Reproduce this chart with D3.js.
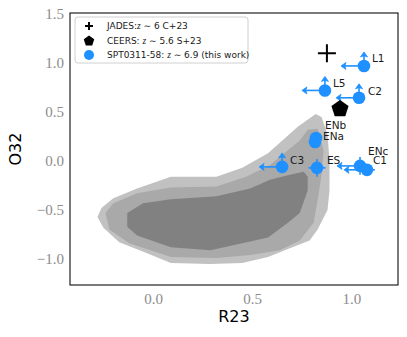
<!DOCTYPE html>
<html>
<head>
<meta charset="utf-8">
<script src="https://cdn.jsdelivr.net/npm/d3@7"></script>
<style>
  html, body { margin: 0; padding: 0; background: #fff; }
  svg { display: block; }
</style>
</head>
<body>
<svg id="chart" width="407" height="337"></svg>
<script>
// local-universe density contours (R23, O32), outer -> inner
const contourOuter = [[-0.28,-0.57],[-0.26,-0.48],[-0.20,-0.38],[-0.08,-0.28],[0.09,-0.16],[0.32,-0.16],[0.45,-0.07],[0.58,0.08],[0.73,0.35],[0.82,0.48],[0.85,0.45],[0.88,0.27],[0.89,0.01],[0.89,-0.30],[0.88,-0.50],[0.83,-0.70],[0.79,-0.81],[0.69,-0.89],[0.58,-0.98],[0.45,-1.04],[0.29,-1.05],[0.09,-1.04],[-0.03,-0.94],[-0.17,-0.83],[-0.25,-0.68]];
const contourMid = [[-0.24,-0.53],[-0.20,-0.43],[-0.08,-0.33],[0.09,-0.27],[0.32,-0.26],[0.47,-0.16],[0.59,-0.04],[0.74,0.21],[0.78,0.32],[0.83,0.33],[0.86,0.11],[0.85,-0.14],[0.83,-0.40],[0.81,-0.63],[0.74,-0.81],[0.64,-0.91],[0.49,-0.96],[0.32,-0.99],[0.09,-0.98],[-0.12,-0.84],[-0.22,-0.70]];
const contourInner = [[-0.13,-0.67],[-0.13,-0.53],[-0.05,-0.43],[0.09,-0.39],[0.32,-0.36],[0.49,-0.28],[0.59,-0.19],[0.69,-0.14],[0.76,-0.11],[0.78,-0.16],[0.78,-0.30],[0.74,-0.53],[0.68,-0.63],[0.58,-0.78],[0.45,-0.84],[0.29,-0.91],[0.09,-0.88],[-0.08,-0.76]];

// literature points
const jadesR23 = 0.877, jadesO32 = 1.10;
const ceersR23 = 0.943, ceersO32 = 0.54;

// SPT0311-58 regions
const sptNames = ["L1", "L5", "C2", "ENb", "ENa", "C3", "ES", "ENc", "C1"];
const sptR23 = [1.064, 0.867, 1.039, 0.822, 0.817, 0.651, 0.827, 1.044, 1.079];
const sptO32 = [0.97, 0.72, 0.645, 0.235, 0.194, -0.06, -0.07, -0.05, -0.09];
const sptR23Upper = [true, true, true, false, false, true, false, true, true];
const sptO32Lower = [true, true, true, false, false, true, false, false, false];
const sptR23Err = [0, 0, 0, 0, 0, 0, 0.043, 0, 0.04];
const sptO32Err = [0, 0, 0, 0, 0, 0, 0.09, 0.09, 0];

const xTicks = [0, 0.5, 1.0];
const yTicks = [-1.0, -0.5, 0.0, 0.5, 1.0, 1.5];

const legendLabels = [
  ["JADES:", "z", " \u223C 6 C+23"],
  ["CEERS: ", "z", " \u223C 5.6 S+23"],
  ["SPT0311-58: ", "z", " \u223C 6.9 (this work)"]
];

const blue = "#1e90ff";
const svg = d3.select("#chart");
const margin = { left: 70, right: 9, top: 13, bottom: 52 };
const W = 407, H = 337;

const x = d3.scaleLinear().domain([-0.4186, 1.2355]).range([margin.left, W - margin.right]);
const y = d3.scaleLinear().domain([-1.265, 1.51]).range([H - margin.bottom, margin.top]);

svg.append("defs").append("clipPath").attr("id", "clip")
  .append("rect")
  .attr("x", margin.left).attr("y", margin.top)
  .attr("width", W - margin.left - margin.right)
  .attr("height", H - margin.top - margin.bottom);

const plot = svg.append("g").attr("clip-path", "url(#clip)");

// contours
const line = d3.line().x(d => x(d[0])).y(d => y(d[1])).curve(d3.curveLinearClosed);
[[contourOuter, "#c1c1c1"], [contourMid, "#a9a9a9"], [contourInner, "#818181"]].forEach(([pts, col]) => {
  plot.append("path").attr("d", line(pts)).attr("fill", col);
});

// arrows (limits) and error bars
const arrowLeftPx = 23, arrowUpPx = 14;
function arrowHead(g, tx, ty, dir) {
  // filled caret pointing in dir
  const l = 5, w = 3.5;
  let p;
  if (dir === "left") p = `M${tx},${ty} L${tx + l},${ty - w} L${tx + l - 1.2},${ty} L${tx + l},${ty + w} Z`;
  else p = `M${tx},${ty} L${tx - w},${ty + l} L${tx},${ty + l - 1.2} L${tx + w},${ty + l} Z`;
  g.append("path").attr("d", p).attr("fill", blue).attr("stroke", blue).attr("stroke-width", 0.8);
}

const pts = plot.append("g");
sptNames.forEach((name, i) => {
  const cx = x(sptR23[i]), cy = y(sptO32[i]);
  if (sptR23Upper[i]) {
    pts.append("line").attr("x1", cx).attr("y1", cy).attr("x2", cx - arrowLeftPx + 2).attr("y2", cy)
      .attr("stroke", blue).attr("stroke-width", 1.6);
    arrowHead(pts, cx - arrowLeftPx, cy, "left");
  }
  if (sptO32Lower[i]) {
    pts.append("line").attr("x1", cx).attr("y1", cy).attr("x2", cx).attr("y2", cy - arrowUpPx + 2)
      .attr("stroke", blue).attr("stroke-width", 1.6);
    arrowHead(pts, cx, cy - arrowUpPx, "up");
  }
  if (sptR23Err[i] > 0) {
    pts.append("line")
      .attr("x1", x(sptR23[i] - sptR23Err[i])).attr("x2", x(sptR23[i] + sptR23Err[i]))
      .attr("y1", cy).attr("y2", cy).attr("stroke", blue).attr("stroke-width", 1.6);
  }
  if (sptO32Err[i] > 0) {
    pts.append("line")
      .attr("y1", y(sptO32[i] - sptO32Err[i])).attr("y2", y(sptO32[i] + sptO32Err[i]))
      .attr("x1", cx).attr("x2", cx).attr("stroke", blue).attr("stroke-width", 1.6);
  }
});
sptNames.forEach((name, i) => {
  pts.append("circle").attr("cx", x(sptR23[i])).attr("cy", y(sptO32[i])).attr("r", 6.3).attr("fill", blue);
});

// JADES plus
const jx = x(jadesR23), jy = y(jadesO32);
plot.append("path").attr("d", `M${jx - 9},${jy} H${jx + 9} M${jx},${jy - 9} V${jy + 9}`)
  .attr("stroke", "#000").attr("stroke-width", 2);

// CEERS pentagon
function pentPath(r) {
  return d3.range(5).map(k => {
    const a = -Math.PI / 2 + k * 2 * Math.PI / 5;
    return [r * Math.cos(a), r * Math.sin(a)];
  });
}
plot.append("path")
  .attr("d", "M" + pentPath(9).join("L") + "Z")
  .attr("transform", `translate(${x(ceersR23)},${y(ceersO32) + 0.8})`)
  .attr("fill", "#000");

// region labels
const labelOffset = {
  L1: [8, -8], L5: [8, -7], C2: [9, -7], ENb: [9, -13], ENa: [8, -6],
  C3: [8, -7], ES: [10, -8], ENc: [8, -15], C1: [6, -10]
};
sptNames.forEach((name, i) => {
  const o = labelOffset[name];
  svg.append("text")
    .attr("x", x(sptR23[i]) + o[0]).attr("y", y(sptO32[i]) + o[1])
    .attr("dy", "0.36em")
    .attr("font-family", "DejaVu Sans").attr("font-size", 10.5).attr("fill", "#1a1a1a")
    .text(name);
});

// frame
svg.append("rect")
  .attr("x", margin.left).attr("y", margin.top)
  .attr("width", W - margin.left - margin.right)
  .attr("height", H - margin.top - margin.bottom)
  .attr("fill", "none").attr("stroke", "#222").attr("stroke-width", 1.2);

// axes
const tickFont = "Liberation Serif";
const fmt = d3.format(".1f");
const xAxis = svg.append("g").attr("transform", `translate(0,${H - margin.bottom})`)
  .call(d3.axisBottom(x).tickValues(xTicks).tickFormat(fmt).tickSize(0).tickPadding(8));
const yAxis = svg.append("g").attr("transform", `translate(${margin.left},0)`)
  .call(d3.axisLeft(y).tickValues(yTicks).tickFormat(fmt).tickSize(0).tickPadding(6));
[xAxis, yAxis].forEach(a => {
  a.select(".domain").remove();
  a.selectAll("text").attr("font-family", tickFont).attr("font-size", 15).attr("fill", "#8c8c8c");
});

svg.append("text")
  .attr("transform", `translate(21,${(margin.top + H - margin.bottom) / 2}) rotate(-90)`)
  .attr("text-anchor", "middle")
  .attr("font-family", "DejaVu Sans").attr("font-size", 16).attr("fill", "#000")
  .text("O32");
svg.append("text")
  .attr("x", (margin.left + W - margin.right) / 2).attr("y", 322)
  .attr("text-anchor", "middle")
  .attr("font-family", "DejaVu Sans").attr("font-size", 16).attr("fill", "#000")
  .text("R23");

// legend
const lg = svg.append("g");
lg.append("rect").attr("x", 75).attr("y", 17).attr("width", 173).attr("height", 46).attr("rx", 3)
  .attr("fill", "#fff").attr("fill-opacity", 0.85).attr("stroke", "#d0d0d0").attr("stroke-width", 1);
const rowY = [26, 40.5, 55];
lg.append("path").attr("d", `M85,${rowY[0]} H93 M89,${rowY[0] - 4} V${rowY[0] + 4}`)
  .attr("stroke", "#000").attr("stroke-width", 2);
lg.append("path").attr("d", "M" + pentPath(5.5).join("L") + "Z")
  .attr("transform", `translate(89,${rowY[1] + 0.5})`).attr("fill", "#000");
lg.append("circle").attr("cx", 89).attr("cy", rowY[2]).attr("r", 5).attr("fill", blue);
legendLabels.forEach((parts, i) => {
  const t = lg.append("text").attr("x", 107).attr("y", rowY[i]).attr("dy", "0.35em")
    .attr("font-family", "DejaVu Sans").attr("font-size", 9).attr("fill", "#1a1a1a");
  t.append("tspan").text(parts[0]);
  t.append("tspan").attr("font-family", "Liberation Serif").attr("font-style", "italic").attr("font-size", 9.5).text(parts[1]);
  t.append("tspan").text(parts[2]);
});
</script>
</body>
</html>
